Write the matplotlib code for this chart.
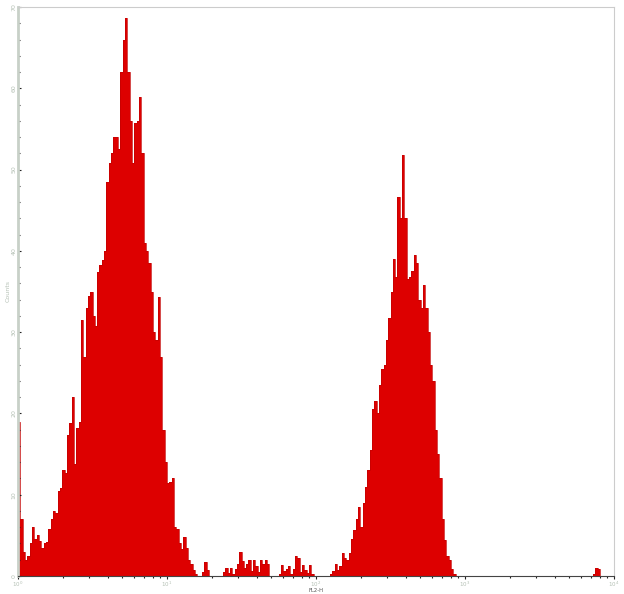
import numpy as np
import matplotlib.pyplot as plt
from matplotlib.ticker import MultipleLocator, LogLocator, NullFormatter

# FL2-H histogram, 256 log channels over 4 decades
counts_left = [19, 7, 3, 2, 2.5, 4, 6, 4.5, 5, 4.3,
               3.4, 4, 4.2, 5.8, 7, 8, 7.7, 10.5, 10.8, 13,
               12.7, 17.4, 18.8, 22, 13.8, 18.2, 19, 31.5, 27, 33,
               34.5, 35, 32, 30.8, 37.4, 38.3, 38.9, 40, 48.5, 50.8,
               52, 54, 54, 52.5, 62, 66, 68.6, 62, 56, 50.8,
               55.7, 56, 58.9, 52, 41, 40, 38.5, 35, 30, 29,
               34.3, 27, 18, 14, 11.5, 11.6, 12, 6, 5.8, 4,
               3.3, 4.8, 3.5, 2, 1.5, 0.7, 0.3, 0, 0, 0.5,
               1.7, 0.7, 0, 0]
counts_mid = [0, 0, 0, 0, 0.5, 1, 0.4, 1, 0.3, 0.8,
              1.5, 3, 1.8, 1, 1.5, 2, 0.6, 2, 1.2, 0.5,
              2, 1.5, 2, 1.5, 0, 0, 0, 0, 0.3, 1.3,
              0.6, 0.8, 1.2, 0.2, 0.8, 2.5, 2.2, 0.5, 1.3, 0.7,
              0.4, 1.3, 0.3, 0, 0, 0, 0, 0, 0, 0,
              0.2, 0.6, 1.5, 0.7, 1.2]
counts_right = [2.8, 2.2, 2, 2.8, 4.5, 5.7, 7, 8.5, 6, 9,
                11, 13, 15.5, 20.5, 21.5, 20, 23.5, 25.5, 26, 29,
                31.7, 35, 39, 36.8, 46.6, 44, 51.8, 44, 36.5, 36.8,
                37.5, 39.5, 38.5, 34, 33, 35.8, 33, 30, 26, 24,
                18, 15, 12, 7, 4.4, 2.5, 2, 0.8, 0.3]
counts_tail = [0] * 59 + [0.3, 1.0, 0.8] + [0] * 6

counts = np.array(counts_left + counts_mid + counts_right + counts_tail)
edges = np.logspace(0, 4, len(counts) + 1)

fig = plt.figure(figsize=(6.24, 5.94), dpi=100)
ax = fig.add_axes([18 / 624, 18 / 594, 596 / 624, 569 / 594])

ax.stairs(counts, edges, fill=True, color='#dd0000', linewidth=0)
ax.stairs(counts, edges, color='#c40000', linewidth=0.5)

ax.set_xscale('log')
ax.set_xlim(1, 1e4)
ax.set_ylim(0, 70)

lab_col = '#b4c0b4'
ax.yaxis.set_major_locator(MultipleLocator(10))
ax.yaxis.set_minor_locator(MultipleLocator(2))
ax.xaxis.set_major_locator(LogLocator(base=10))
ax.xaxis.set_minor_locator(LogLocator(base=10, subs=np.arange(2, 10)))
ax.xaxis.set_minor_formatter(NullFormatter())

ax.tick_params(axis='both', which='major', labelsize=4.5, labelcolor=lab_col,
               color='#222222', length=2, width=0.8, pad=1)
ax.tick_params(axis='x', which='major', labelsize=4, pad=0.5)
ax.tick_params(axis='both', which='minor', color='#222222', length=1.5, width=0.8)
ax.tick_params(axis='y', which='both', direction='in')
for t in ax.get_yticklabels():
    t.set_rotation(90)
    t.set_va('center')

ax.set_xlabel('FL2-H', fontsize=3.8, color='#555555')
ax.xaxis.set_label_coords(0.5, -11.5 / 569)
ax.set_ylabel('Counts', fontsize=4.5, color=lab_col, labelpad=1)

ax.spines['left'].set_color('#c8d0c8')
ax.spines['left'].set_linewidth(2)
ax.spines['top'].set_color('#cccccc')
ax.spines['right'].set_color('#cccccc')
ax.spines['bottom'].set_color('#444444')
ax.spines['bottom'].set_linewidth(0.8)

fig.savefig('out.png', dpi=100)
